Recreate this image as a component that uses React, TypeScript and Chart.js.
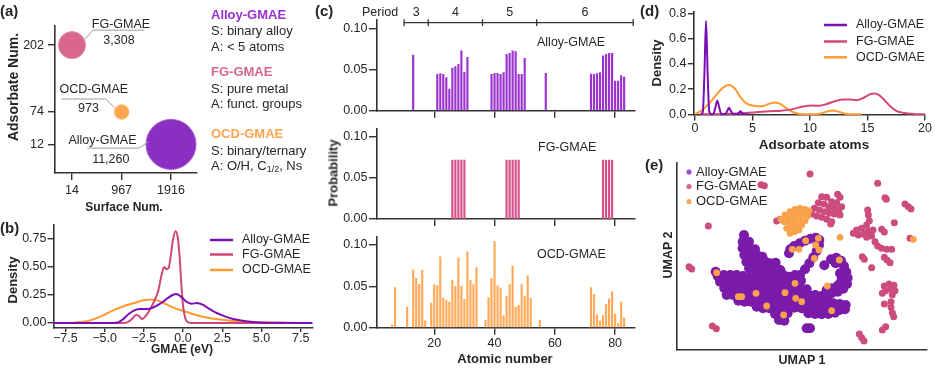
import React, { useEffect, useRef } from "react";
import { Chart, registerables } from "chart.js";

Chart.register(...registerables);

const W = 935;
const H = 368;
const FONT = "'Liberation Sans', Arial, Helvetica, sans-serif";
const INK = "#262626";
const AXIS = "#333333";

/* ---------------- data ---------------- */
const GROUPS = ["Alloy-GMAE", "FG-GMAE", "OCD-GMAE"];

// (a) dataset overview
const SURFACE_NUM = [1916, 14, 967];
const ADSORBATE_NUM = [12, 202, 74];
const SAMPLE_COUNT = [11260, 3308, 973];
const SAMPLE_LABEL = ["11,260", "3,308", "973"];
const A_X_TICKS = [14, 967, 1916];
const A_Y_TICKS = [12, 74, 202];
const GROUP_SURFACE = ["S: binary alloy", "S: pure metal", "S: binary/ternary"];
const GROUP_ADSORBATE = ["A: < 5 atoms", "A: funct. groups"];
const OCD_ADSORBATE = ["A: O/H, C", "1/2", ", Ns"];

// (b) GMAE density (eV, density)
const B_ALLOY = [[-8.25,0],[-4.4,0],[-4.1,0.008],[-3.8,0.035],[-3.5,0.075],[-3.1,0.112],[-2.7,0.124],[-2.3,0.124],[-1.9,0.138],[-1.5,0.168],[-1.1,0.208],[-0.75,0.243],[-0.45,0.258],[-0.15,0.238],[0.2,0.192],[0.55,0.172],[0.9,0.178],[1.25,0.163],[1.6,0.132],[2.0,0.1],[2.4,0.074],[2.8,0.052],[3.2,0.036],[3.7,0.022],[4.3,0.011],[5.0,0.004],[6.0,0.001],[8.25,0]];
const B_FG = [[-8.25,0],[-3.9,0],[-3.55,0.005],[-3.25,0.035],[-2.98,0.074],[-2.8,0.062],[-2.62,0.035],[-2.42,0.055],[-2.15,0.11],[-1.85,0.19],[-1.57,0.29],[-1.38,0.42],[-1.2,0.5],[-1.05,0.48],[-0.92,0.49],[-0.78,0.6],[-0.63,0.75],[-0.47,0.82],[-0.34,0.77],[-0.23,0.62],[-0.12,0.38],[0.0,0.16],[0.14,0.045],[0.3,0.008],[0.5,0],[8.25,0]];
const B_OCD = [[-8.25,0],[-7.5,0],[-7.0,0.002],[-6.5,0.008],[-6.0,0.02],[-5.5,0.043],[-5.0,0.075],[-4.5,0.108],[-4.0,0.138],[-3.5,0.162],[-3.0,0.183],[-2.5,0.202],[-2.1,0.21],[-1.7,0.204],[-1.3,0.183],[-0.9,0.155],[-0.5,0.13],[0.0,0.108],[0.5,0.085],[1.0,0.064],[1.5,0.048],[2.0,0.037],[2.5,0.028],[3.0,0.02],[3.5,0.014],[4.0,0.01],[5.0,0.005],[6.0,0.002],[7.0,0],[8.25,0]];
const B_X_TICKS = [-7.5, -5, -2.5, 0, 2.5, 5, 7.5];
const B_Y_TICKS = [0, 0.25, 0.5, 0.75];

// (c) element probability by atomic number
const Z_ALLOY = [13, 21,22,23,24,25,26,27,28,29,30,31, 39,40,41,42,43,44,45,46,47,48,49,50, 57, 72,73,74,75,76,77,78,79,80,81,82,83];
const P_ALLOY = [0.0676, 0.0442,0.0449,0.0442,0.0401,0.0263,0.0518,0.0534,0.0563,0.0725,0.0466,0.0648, 0.0442,0.0454,0.0454,0.0442,0.0461,0.0684,0.0697,0.0725,0.0716,0.0442,0.0442,0.0636, 0.0454, 0.0445,0.0442,0.0449,0.0461,0.0664,0.0684,0.0697,0.0697,0.036,0.036,0.0425,0.0409];
const Z_FG = [26,27,28,29,30, 44,45,46,47,48, 76,77,78,79];
const P_FG = [0.0714,0.0714,0.0714,0.0714,0.0714, 0.0714,0.0714,0.0714,0.0714,0.0714, 0.0714,0.0714,0.0714,0.0714];
const Z_OCD = [6,7,11,13,14,15,16,17, 19,20,21,22,23,24,25,26,27,28,29,30,31,32,33,34, 37,38,39,40,41,42,43,44,45,46,47,48,49,50,51,52, 55, 72,73,74,75,76,77,78,79,80,81,82,83];
const P_OCD = [0.0035,0.0485,0.025,0.070,0.0598,0.0525,0.0695,0.0084, 0.0298,0.052,0.051,0.0857,0.0359,0.033,0.031,0.0574,0.050,0.0845,0.050,0.0343,0.0918,0.0577,0.052,0.0731, 0.0091,0.0363,0.0598,0.1045,0.051,0.048,0.0145,0.0383,0.052,0.0747,0.025,0.027,0.052,0.0375,0.063,0.0355, 0.0091, 0.0485,0.0403,0.0157,0.0084,0.0145,0.0286,0.035,0.0436,0.0164,0.0051,0.031,0.0116];
const C_X_TICKS = [20, 40, 60, 80];
const C_Y_TICKS = [0, 0.05, 0.1];
const PERIOD_BOUNDS = [10, 18, 36, 54, 86];
const PERIOD_LABELS = ["3", "4", "5", "6"];

// (d) adsorbate atoms density
const D_ALLOY = [[0.5,0],[0.68,0.02],[0.82,0.32],[0.96,0.74],[1.1,0.32],[1.24,0.02],[1.42,0],[1.58,0],[1.76,0.05],[1.94,0.108],[2.12,0.05],[2.3,0],[2.6,0],[2.78,0.022],[2.96,0.052],[3.14,0.022],[3.35,0],[3.65,0],[3.8,0.01],[3.95,0.024],[4.1,0.01],[4.3,0],[4.6,0]];
const D_FG = [[0.5,0],[1.5,0.001],[2.5,0.003],[3.5,0.006],[4.5,0.011],[5.5,0.018],[6.5,0.024],[7.5,0.029],[8.3,0.037],[9.0,0.053],[9.6,0.066],[10.2,0.069],[10.8,0.068],[11.4,0.08],[12.1,0.102],[12.8,0.117],[13.4,0.118],[14.0,0.112],[14.6,0.128],[15.2,0.158],[15.6,0.164],[16.0,0.152],[16.5,0.11],[17.0,0.062],[17.5,0.028],[18.2,0.01],[19.0,0.003],[20,0]];
const D_OCD = [[0,0.003],[0.5,0.025],[1.0,0.065],[1.5,0.115],[2.0,0.17],[2.5,0.215],[3.0,0.233],[3.5,0.2],[4.0,0.13],[4.5,0.085],[5.0,0.07],[5.5,0.064],[6.0,0.068],[6.5,0.085],[6.9,0.093],[7.4,0.082],[8.0,0.045],[8.5,0.018],[9.0,0.004],[9.5,0],[10.5,0],[11.0,0.008],[11.5,0.022],[12.0,0.03],[12.5,0.02],[13.0,0.006],[13.5,0],[14.5,0]];
const D_X_TICKS = [0, 5, 10, 15, 20];
const D_Y_TICKS = [0, 0.2, 0.4, 0.6, 0.8];

// (e) UMAP embedding (UMAP 1, UMAP 2)
const U_ALLOY = [
[20.7,37.5],[20.3,35.5],[22.2,35.5],[20.3,33.5],[22.2,33.5],[24.0,33.2],
[20.8,31.5],[22.7,31.5],[24.6,31.5],[26.2,31.0],
[21.4,29.5],[23.3,29.5],[25.2,29.5],[27.1,29.5],[28.5,29.0],[30.2,29.2],
[22.2,27.5],[24.1,27.5],[26.0,27.5],[27.9,27.5],[29.8,27.5],[31.6,27.0],
[12.2,26.5],[12.8,25.2],[14.7,25.5],[16.6,25.5],[18.5,25.5],[20.4,25.2],
[23.0,25.5],[24.9,25.5],[26.8,25.5],[28.7,25.5],[30.6,25.5],[32.5,25.5],[34.2,25.0],
[13.5,23.5],[15.4,23.5],[17.3,23.5],[19.2,23.5],[21.1,23.5],[23.0,23.5],[24.9,23.5],[26.8,23.5],[28.7,23.5],[30.6,23.5],[32.5,23.5],[34.4,23.5],[36.0,23.8],
[14.8,21.5],[16.7,21.5],[18.6,21.5],[20.5,21.5],[22.4,21.5],[24.3,21.5],[26.2,21.5],[28.1,21.5],[30.0,21.5],[31.9,21.5],[33.8,21.5],[35.7,21.5],[37.6,21.5],[39.5,21.2],
[15.5,19.5],[17.4,19.5],[19.3,19.5],[21.2,19.5],[23.1,19.5],[25.0,19.5],[26.9,19.5],[28.8,19.5],[30.7,19.5],[32.6,19.5],[34.5,19.5],[36.4,19.5],[38.3,19.5],[40.2,19.5],[42.1,19.5],[44.0,19.2],[45.8,18.8],
[19.0,17.8],[20.9,17.5],[22.8,17.5],[24.7,17.5],[26.6,17.5],[28.5,17.5],[30.4,17.5],[32.3,17.5],[34.2,17.5],[36.1,17.5],[38.0,17.5],[39.9,17.5],[41.8,17.5],[43.7,17.5],[45.6,17.2],[47.5,17.0],[49.4,16.8],[51.2,16.5],
[24.5,16.0],[26.4,15.5],[28.3,15.5],[30.2,15.5],[32.1,15.5],[34.0,15.5],[35.8,15.7],[38.0,15.5],[39.9,15.5],[41.8,15.5],[43.7,15.3],[45.6,15.2],[47.5,15.0],[49.4,15.0],[51.0,15.2],
[30.0,13.8],[32.0,13.5],[33.8,14.0],[40.0,14.0],[42.0,13.8],[44.0,13.7],[46.0,13.8],[48.0,14.2],
[31.2,12.0],[32.8,11.8],
[37.5,25.5],[36.0,25.5],[37.8,23.8],[39.0,27.2],[40.3,29.0],[41.5,30.8],[42.5,32.7],[43.2,34.5],[43.3,36.0],[42.2,36.7],[40.6,36.4],[39.0,35.8],[37.4,35.0],[35.8,34.2],[34.6,33.2],[34.2,32.0],
[46.8,30.2],[48.4,30.7],[49.8,29.8],[50.7,28.2],[51.4,26.4],[51.8,24.6],[51.6,22.8],[50.5,21.4],[48.8,20.5],[47.0,20.0],[45.2,19.8],[50.0,24.2],[49.0,22.5],[47.2,21.5],[45.5,21.0],[49.5,26.0],[48.2,29.0],[44.8,28.4],
[39.5,9.5],[40.5,9.5]
];
const U_FG = [
[40.5,55.8],[25.8,52.6],[26.8,52.3],[10.0,40.2],[4.2,28.0],[5.0,27.3],[11.2,10.2],[12.4,9.4],[55.3,7.8],[56.0,6.7],[56.7,5.7],[60.8,53.0],[63.0,48.7],[63.4,48.2],[69.0,46.8],[70.0,46.0],[70.8,45.3],[65.8,41.2],[70.5,36.5],[56.2,31.0],[56.8,30.2],[62.8,30.8],[63.6,30.0],[64.5,29.2],[59.0,27.7],[63.2,10.0],[62.2,9.0],
[57.8,45.0],[58.0,43.5],[58.3,41.8],[57.5,40.5],[56.0,39.5],[54.5,39.0],[53.5,38.0],[55.0,37.5],[56.5,37.8],[58.0,38.7],[59.4,39.0],[59.0,37.2],[57.5,36.8],[60.0,35.5],[60.8,34.2],[62.0,33.5],[63.5,33.2],[65.0,33.2],[62.0,39.2],[62.8,38.4],
[62.8,22.2],[64.2,22.8],[65.7,22.4],[64.8,21.2],[63.2,20.8],[62.2,20.0],[66.0,20.8],[65.2,19.6],[62.8,16.8],[64.8,17.5],[64.8,15.8],[65.2,14.2],[65.6,13.0],
[44.0,49.0],[45.5,48.8],[48.8,49.7],[49.5,48.8],[47.0,47.5],[48.5,47.2],[50.0,46.0],[43.0,47.2],[44.7,46.8],[46.2,46.0],[47.8,45.5],[49.2,45.0],[41.8,45.5],[43.3,45.0],[44.8,44.5],[46.3,44.0],[47.8,43.8],[49.5,43.5],[41.0,43.8],[42.5,43.2],[44.0,42.8],[45.5,42.2],[47.0,41.5],[46.7,40.8],[30.5,41.7],[31.6,42.2]
];
const U_OCD = [
[33.0,43.5],[34.5,44.5],[36.0,45.2],[37.5,45.5],[39.0,45.2],[40.2,44.8],[34.0,42.5],[35.5,43.2],[37.0,43.8],[38.5,43.8],[39.8,43.2],[32.8,41.5],[34.5,41.0],[36.0,41.8],[37.5,42.2],[39.0,41.8],[33.5,39.5],[35.0,40.0],[36.5,40.2],[38.0,40.5],[34.5,38.0],[35.8,38.5],[37.2,39.0],[31.8,42.2],
[49.5,36.8],[71.5,36.2],
[12.5,26.2],[19.0,19.0],[20.0,19.0],[24.3,20.0],[27.5,16.2],[33.0,20.2],[32.6,13.5],[36.0,23.0],[36.2,18.5],[38.0,17.5],[45.7,22.2],[47.0,14.8],[49.3,30.0],[41.8,30.5],[43.0,36.5],[42.2,34.5],[43.2,33.0],[39.2,35.8],[37.2,33.2],[35.2,33.2]
];

/* ---------------- styling ---------------- */
const HEAD_COLORS = ["#9a30d4", "#d9668d", "#ffa44e"];
const BUBBLE_FILL = ["#8b2ec2", "#d9668d", "#ffa550"];
const BUBBLE_EDGE = ["#a458d6", "#e68aa8", "#ffbd80"];
const LINE_COLORS = ["#7a0db5", "#d2467c", "#ff9a2e"];
const BAR_COLORS = ["#9b33cf", "#d8508a", "#ffaa5a"];
const DOT_COLORS = ["#7a1baa", "#cb4c7d", "#f9a24c"];
const LEGEND_DOT = ["#9b4dca", "#d36a93", "#f7a85a"];

type Frame = { L: number; T: number; R: number; B: number };
const FA: Frame = { L: 55, T: 12, R: 197, B: 173 };
const FB: Frame = { L: 53.5, T: 225, R: 312.5, B: 328 };
const FC1: Frame = { L: 377, T: 20, R: 635, B: 110.7 };
const FC2: Frame = { L: 377, T: 128.3, R: 635, B: 219 };
const FC3: Frame = { L: 377, T: 236.7, R: 635, B: 327.7 };
const FD: Frame = { L: 694, T: 11.7, R: 925, B: 115 };
const FE: Frame = { L: 677, T: 163, R: 927, B: 350 };

function scale(axis: "x" | "y", f: Frame, min: number, max: number, ticks: number[] | null, fmt: (v: number) => string, tl = 6, pad = 2, show = true) {
  const has = !!ticks;
  return {
    type: "linear",
    position: axis === "x" ? "bottom" : "left",
    min,
    max,
    offset: false,
    afterBuildTicks: (s: any) => {
      if (ticks) s.ticks = ticks.map((v) => ({ value: v }));
    },
    afterFit: (s: any) => {
      if (axis === "x") s.height = H - f.B;
      else s.width = f.L;
    },
    grid: { display: true, offset: false, drawOnChartArea: false, drawTicks: has, tickLength: tl, tickWidth: 1.4, tickColor: AXIS, color: AXIS, lineWidth: 1.4 },
    border: { display: true, color: AXIS, width: 1.6 },
    ticks: {
      display: has && show,
      color: INK,
      padding: pad,
      autoSkip: false,
      maxRotation: 0,
      minRotation: 0,
      font: { family: FONT, size: 12.5, lineHeight: 1 },
      callback: (v: any) => fmt(Number(v)),
    },
    title: { display: false },
  };
}

function base(f: Frame, scales: any) {
  return {
    responsive: false,
    animation: false,
    devicePixelRatio: 1,
    events: [],
    layout: { padding: { left: 0, top: f.T, right: W - f.R, bottom: 0 } },
    plugins: { legend: { display: false }, tooltip: { enabled: false }, title: { display: false } },
    scales,
  };
}

const minusFmt = (d: number) => (v: number) => (v < 0 ? "\u2212" : "") + Math.abs(v).toFixed(d);

function lineDs(pts: number[][], color: string) {
  return {
    data: pts.map((p) => ({ x: p[0], y: p[1] })),
    borderColor: color,
    backgroundColor: color,
    borderWidth: 2,
    pointRadius: 0,
    tension: 0.4,
    cubicInterpolationMode: "monotone",
    fill: false,
  };
}

function lineLegend(id: string, x0: number, x1: number, xt: number, ys: number[]) {
  return {
    id,
    afterDraw(chart: any) {
      const ctx = chart.ctx;
      ctx.save();
      ctx.font = `12.5px ${FONT}`;
      ctx.textBaseline = "middle";
      ctx.textAlign = "left";
      chart.data.datasets.forEach((ds: any, i: number) => {
        ctx.strokeStyle = ds.borderColor;
        ctx.lineWidth = 2.5;
        ctx.beginPath();
        ctx.moveTo(x0, ys[i]);
        ctx.lineTo(x1, ys[i]);
        ctx.stroke();
        ctx.fillStyle = INK;
        ctx.fillText(GROUPS[i], xt, ys[i]);
      });
      ctx.restore();
    },
  };
}

// leader-line offsets (px) relative to each bubble centre
const A_LEADERS = [
  { line: [[-83.7, 3.7], [-31.7, 3.7], [-22.7, -2.7]], name: [-68.5, -4.3], val: [-60.2, 14.7] },
  { line: [[13, -6], [21, -15], [72, -15]], name: [49, -21], val: [47, -5] },
  { line: [[-60.3, -13], [-16, -13], [-7, -4.3]], name: [-27.8, -22], val: [-33.2, -3] },
];

const annotPlugin = {
  id: "annotA",
  afterDatasetsDraw(chart: any) {
    const ctx = chart.ctx;
    const xs = chart.scales.x;
    const ys = chart.scales.y;
    ctx.save();
    ctx.strokeStyle = "#9d9d9d";
    ctx.lineWidth = 1;
    ctx.fillStyle = INK;
    ctx.font = `12.5px ${FONT}`;
    ctx.textAlign = "center";
    ctx.textBaseline = "middle";
    A_LEADERS.forEach((ld, i) => {
      const cx = xs.getPixelForValue(SURFACE_NUM[i]);
      const cy = ys.getPixelForValue(ADSORBATE_NUM[i]);
      ctx.beginPath();
      ld.line.forEach((p, k) => (k ? ctx.lineTo(cx + p[0], cy + p[1]) : ctx.moveTo(cx + p[0], cy + p[1])));
      ctx.stroke();
      ctx.fillText(GROUPS[i], cx + ld.name[0], cy + ld.name[1]);
      ctx.fillText(SAMPLE_LABEL[i], cx + ld.val[0], cy + ld.val[1]);
    });
    ctx.restore();
  },
};

const periodPlugin = {
  id: "period",
  afterDraw(chart: any) {
    const xs = chart.scales.x;
    const ctx = chart.ctx;
    const top = chart.chartArea.top;
    const yLine = top + 2.7;
    const yText = top - 7.3;
    const px = PERIOD_BOUNDS.map((z) => xs.getPixelForValue(z));
    ctx.save();
    ctx.strokeStyle = AXIS;
    ctx.lineWidth = 1.3;
    ctx.beginPath();
    ctx.moveTo(px[0], yLine);
    ctx.lineTo(px[px.length - 1], yLine);
    px.forEach((p) => {
      ctx.moveTo(p, yLine - 3.4);
      ctx.lineTo(p, yLine + 3.4);
    });
    ctx.stroke();
    ctx.fillStyle = INK;
    ctx.font = `12.5px ${FONT}`;
    ctx.textBaseline = "middle";
    ctx.textAlign = "center";
    PERIOD_LABELS.forEach((l, i) => ctx.fillText(l, (px[i] + px[i + 1]) / 2, yText));
    ctx.textAlign = "right";
    ctx.fillText("Period", px[0] - 6, yText);
    ctx.restore();
  },
};

const eLegend = {
  id: "eLegend",
  afterDraw(chart: any) {
    const ctx = chart.ctx;
    const ys = [172, 186.5, 201.5];
    ctx.save();
    ctx.font = `13px ${FONT}`;
    ctx.textBaseline = "middle";
    ctx.textAlign = "left";
    GROUPS.forEach((g, i) => {
      ctx.fillStyle = LEGEND_DOT[i];
      ctx.beginPath();
      ctx.arc(689, ys[i], 2.6, 0, Math.PI * 2);
      ctx.fill();
      ctx.fillStyle = INK;
      ctx.fillText(g, 696, ys[i]);
    });
    ctx.restore();
  },
};

function barConfig(f: Frame, zs: number[], ps: number[], color: string, showX: boolean, plugins: any[]) {
  return {
    type: "bar",
    data: {
      datasets: [
        {
          data: zs.map((z, i) => ({ x: z, y: ps[i] })),
          backgroundColor: color,
          borderWidth: 0,
          barThickness: 1.5,
        },
      ],
    },
    options: base(f, {
      x: scale("x", f, 1, 86.6, C_X_TICKS, (v) => String(v), 7, 3, showX),
      y: scale("y", f, 0, 0.11, C_Y_TICKS, (v) => v.toFixed(2), 8, 1.5),
    }),
    plugins,
  };
}

function buildConfigs(): any[] {
  const aCfg = {
    type: "bubble",
    data: {
      datasets: GROUPS.map((g, i) => ({
        label: g,
        data: [{ x: SURFACE_NUM[i], y: ADSORBATE_NUM[i], r: Math.sqrt(SAMPLE_COUNT[i]) * 0.2356 }],
        backgroundColor: BUBBLE_FILL[i],
        borderColor: BUBBLE_EDGE[i],
        borderWidth: 1,
      })),
    },
    options: base(FA, {
      x: scale("x", FA, -312.6, 2415.5, A_X_TICKS, (v) => String(v), 7, 4),
      y: scale("y", FA, -42.8, 238.7, A_Y_TICKS, (v) => String(v), 7, 4),
    }),
    plugins: [annotPlugin],
  };

  const bCfg = {
    type: "line",
    data: { datasets: [lineDs(B_ALLOY, LINE_COLORS[0]), lineDs(B_FG, LINE_COLORS[1]), lineDs(B_OCD, LINE_COLORS[2])] },
    options: base(FB, {
      x: scale("x", FB, -8.25, 8.25, B_X_TICKS, minusFmt(1), 4, 0),
      y: scale("y", FB, -0.045, 0.875, B_Y_TICKS, (v) => v.toFixed(2), 6, 1),
    }),
    plugins: [lineLegend("legB", 210, 233, 242, [240, 254.5, 270])],
  };

  const c1 = barConfig(FC1, Z_ALLOY, P_ALLOY, BAR_COLORS[0], false, [periodPlugin]);
  const c2 = barConfig(FC2, Z_FG, P_FG, BAR_COLORS[1], false, []);
  const c3 = barConfig(FC3, Z_OCD, P_OCD, BAR_COLORS[2], true, []);

  const dCfg = {
    type: "line",
    data: { datasets: [lineDs(D_ALLOY, LINE_COLORS[0]), lineDs(D_FG, LINE_COLORS[1]), lineDs(D_OCD, LINE_COLORS[2])] },
    options: base(FD, {
      x: scale("x", FD, -0.087, 20, D_X_TICKS, (v) => String(v), 5.5, 1.5),
      y: scale("y", FD, -0.0055, 0.8127, D_Y_TICKS, (v) => v.toFixed(1), 6, 1.5),
    }),
    plugins: [lineLegend("legD", 824, 847, 856, [25, 41.5, 57.3])],
  };

  const sets = [U_ALLOY, U_FG, U_OCD];
  const radii = [5, 3.5, 3.4];
  const eCfg = {
    type: "scatter",
    data: {
      datasets: sets.map((s, i) => ({
        data: s.map((p) => ({ x: p[0], y: p[1] })),
        backgroundColor: DOT_COLORS[i],
        borderWidth: 0,
        pointRadius: radii[i],
        order: 3 - i,
      })),
    },
    options: base(FE, {
      x: scale("x", FE, 0.6, 75.6, null, (v) => String(v)),
      y: scale("y", FE, 3.0, 59.1, null, (v) => String(v)),
    }),
    plugins: [eLegend],
  };

  return [aCfg, bCfg, c1, c2, c3, dCfg, eCfg];
}

function Txt(props: any) {
  const { x, y, size = 13, bold = false, color = INK, align = "left", rotate = false, children } = props;
  const tx = align === "center" ? "-50%" : align === "right" ? "-100%" : "0";
  return (
    <div
      style={{
        position: "absolute",
        left: x,
        top: y,
        transform: `translate(${tx},-50%)${rotate ? " rotate(-90deg)" : ""}`,
        fontSize: size,
        fontWeight: bold ? 700 : 400,
        color,
        whiteSpace: "nowrap",
        lineHeight: 1,
      }}
    >
      {children}
    </div>
  );
}

export default function App() {
  const refs = useRef<(HTMLCanvasElement | null)[]>([]);
  useEffect(() => {
    Chart.defaults.font.family = FONT;
    Chart.defaults.color = INK;
    const cfgs = buildConfigs();
    const charts = cfgs.map((cfg, i) => new Chart(refs.current[i] as HTMLCanvasElement, cfg));
    return () => charts.forEach((c) => c.destroy());
  }, []);

  const headY = [13.5, 71, 133];
  return (
    <div style={{ position: "fixed", left: 0, top: 0, width: W, height: H, background: "#fff", overflow: "hidden", fontFamily: FONT, color: INK }}>
      {[0, 1, 2, 3, 4, 5, 6].map((i) => (
        <canvas key={i} ref={(el) => { refs.current[i] = el; }} width={W} height={H} style={{ position: "absolute", left: 0, top: 0 }} />
      ))}

      {/* panel labels */}
      <Txt x={0} y={10} size={15} bold>(a)</Txt>
      <Txt x={0} y={227} size={15} bold>(b)</Txt>
      <Txt x={315} y={10} size={15} bold>(c)</Txt>
      <Txt x={640} y={10} size={15} bold>(d)</Txt>
      <Txt x={645} y={164} size={15} bold>(e)</Txt>

      {/* axis titles */}
      <Txt x={13} y={87} size={14} bold align="center" rotate>Adsorbate Num.</Txt>
      <Txt x={124} y={207} size={12} bold align="center">Surface Num.</Txt>
      <Txt x={12} y={280} size={13} bold align="center" rotate>Density</Txt>
      <Txt x={182} y={349} size={12} bold align="center">GMAE (eV)</Txt>
      <Txt x={333} y={173} size={13} bold align="center" rotate>Probability</Txt>
      <Txt x={505} y={358} size={13} bold align="center">Atomic number</Txt>
      <Txt x={656} y={63} size={13} bold align="center" rotate>Density</Txt>
      <Txt x={814} y={145} size={13.5} bold align="center">Adsorbate atoms</Txt>
      <Txt x={802} y={360} size={12.5} bold align="center">UMAP 1</Txt>
      <Txt x={668} y={255} size={12.5} bold align="center" rotate>UMAP 2</Txt>

      {/* (a) dataset descriptions */}
      {GROUPS.map((g, i) => (
        <React.Fragment key={g}>
          <Txt x={211} y={headY[i]} size={13} bold color={HEAD_COLORS[i]}>{g}</Txt>
          <Txt x={211} y={headY[i] + 16.5} size={13}>{GROUP_SURFACE[i]}</Txt>
          <Txt x={211} y={headY[i] + 32} size={13}>
            {i < 2 ? GROUP_ADSORBATE[i] : (
              <span>
                {OCD_ADSORBATE[0]}
                <span style={{ fontSize: 9, position: "relative", top: 2 }}>{OCD_ADSORBATE[1]}</span>
                {OCD_ADSORBATE[2]}
              </span>
            )}
          </Txt>
        </React.Fragment>
      ))}

      {/* (c) subplot titles */}
      <Txt x={537} y={41.7} size={12.5}>{GROUPS[0]}</Txt>
      <Txt x={538} y={146.7} size={12.5}>{GROUPS[1]}</Txt>
      <Txt x={537} y={254} size={12.5}>{GROUPS[2]}</Txt>
    </div>
  );
}
